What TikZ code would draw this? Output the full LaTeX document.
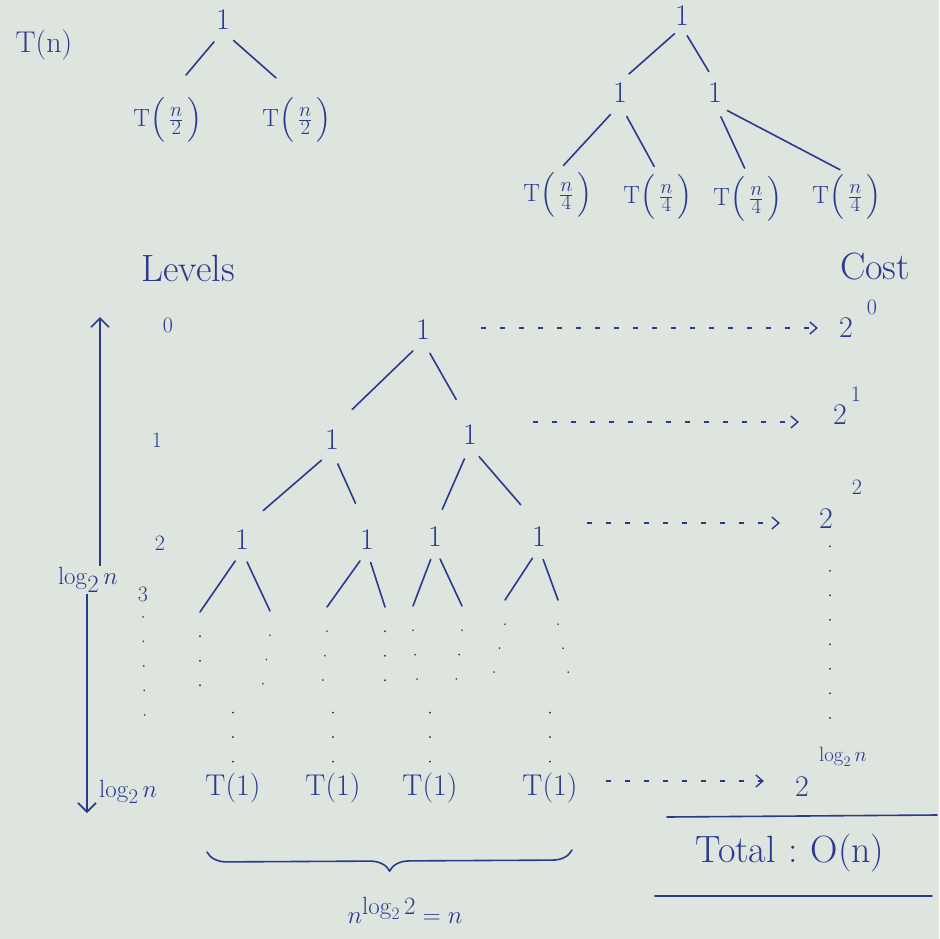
\documentclass[tikz,border=0pt]{standalone}
\usepackage{amsmath}
\usetikzlibrary{arrows.meta,decorations.pathreplacing}
\definecolor{ink}{HTML}{2B3A8F}
\definecolor{paper}{HTML}{DDE5DE}
\begin{document}
\begin{tikzpicture}[x=1pt,y=-1pt,
  txt/.style={text=ink,inner sep=1pt,font=\fontsize{30}{34}\selectfont},
  big/.style={text=ink,inner sep=1pt,font=\fontsize{38}{42}\selectfont},
  small/.style={text=ink,inner sep=1pt,font=\fontsize{22}{26}\selectfont},
  stroke/.style={draw=ink,line width=1.6pt,line cap=round},
  br/.style={stroke,shorten <=14pt,shorten >=28pt},
  darrow/.style={draw=ink,line width=1.4pt,dash pattern=on 5pt off 14pt,-{Straight Barb[length=7pt,width=12pt]}},
  dotline/.style={draw=ink,line width=1.5pt,line cap=round,dash pattern=on 0.5pt off 24pt},
  arr/.style={draw=ink,line width=1.6pt,-{Straight Barb[length=9pt,width=18pt]}}]
\fill[paper] (0,0) rectangle (939,939);
\useasboundingbox (0,0) rectangle (939,939);

% top-left small tree
\node[txt] (tn) at (44,45) {T(n)};
\node[txt] (a0) at (223,20) {1};
\node[txt] (a1) at (168,120) {$\mathrm{T}\Bigl(\,\frac{n}{2}\,\Bigr)$};
\node[txt] (a2) at (297,120) {$\mathrm{T}\Bigl(\,\frac{n}{2}\,\Bigr)$};
\draw[br] (a0.south) -- (a1.north);
\draw[br] (a0.south) -- (a2.north);

% top-right tree
\node[txt] (b0) at (682,16) {1};
\node[txt] (b1) at (620,93) {1};
\node[txt] (b2) at (715,93) {1};
\node[txt] (b3) at (558,195) {$\mathrm{T}\Bigl(\,\frac{n}{4}\,\Bigr)$};
\node[txt] (b4) at (658,197) {$\mathrm{T}\Bigl(\,\frac{n}{4}\,\Bigr)$};
\node[txt] (b5) at (748,199) {$\mathrm{T}\Bigl(\,\frac{n}{4}\,\Bigr)$};
\node[txt] (b6) at (847,197) {$\mathrm{T}\Bigl(\,\frac{n}{4}\,\Bigr)$};
\draw[br,shorten >=12pt,shorten <=10pt] (b0.south) -- (b1.north);
\draw[br,shorten >=12pt,shorten <=10pt] (b0.south) -- (b2.north);
\draw[br,shorten >=8pt] (b1.south) -- (b3.north);
\draw[br,shorten >=8pt] (b1.south) -- (b4.north);
\draw[br,shorten >=8pt] (b2.south) -- (b5.north);
\draw[br,shorten >=8pt] (b2.south) -- (b6.north);

% headers
\node[big] (lev) at (188,268) {Levels};
\node[big] (cost) at (875,267) {Cost};

% level numbers
\node[small] (l0) at (168,325) {0};
\node[small] (l1) at (157,440) {1};
\node[small] (l2) at (160,543) {2};
\node[small] (l3) at (143,594) {3};
\coordinate (l3b) at (145,735);
\draw[dotline] ([yshift=-14pt]l3.south) -- (l3b);

% left arrows
\node[txt,font=\fontsize{34}{38}\selectfont] (lg) at (88,580) {$\log_2 n$};
\coordinate (uptop) at (100,317);
\draw[arr] (lg.north -| uptop) -- (uptop);
\coordinate (dnbot) at (87,813);
\node[txt,anchor=west] (lgb) at (98,792) {$\log_2 n$};
\draw[arr] (lg.south -| dnbot) -- (dnbot);

% main tree
\node[txt] (r0) at (423,330) {1};
\node[txt] (r1) at (332,440) {1};
\node[txt] (r2) at (470,435) {1};
\node[txt] (r3) at (242,540) {1};
\node[txt] (r4) at (367,540) {1};
\node[txt] (r5) at (435,537) {1};
\node[txt] (r6) at (539,537) {1};
\draw[br] (r0.south) -- (r1.north);
\draw[br] (r0.south) -- (r2.north);
\draw[br] (r1.south) -- (r3.north);
\draw[br] (r1.south) -- (r4.north);
\draw[br,shorten >=18pt] (r2.south) -- (r5.north);
\draw[br] (r2.south) -- (r6.north);
\coordinate (e1) at (200,612);
\coordinate (e2) at (270,611);
\coordinate (e3) at (327,607);
\coordinate (e4) at (385,607);
\coordinate (e5) at (413,606);
\coordinate (e6) at (462,606);
\coordinate (e7) at (505,600);
\coordinate (e8) at (558,600);
\draw[stroke,shorten <=12pt] (r3.south) -- (e1);
\draw[stroke,shorten <=12pt] (r3.south) -- (e2);
\draw[stroke,shorten <=12pt] (r4.south) -- (e3);
\draw[stroke,shorten <=12pt] (r4.south) -- (e4);
\draw[stroke,shorten <=12pt] (r5.south) -- (e5);
\draw[stroke,shorten <=12pt] (r5.south) -- (e6);
\draw[stroke,shorten <=12pt] (r6.south) -- (e7);
\draw[stroke,shorten <=12pt] (r6.south) -- (e8);
\foreach \e/\x in {e1/200,e2/262,e3/322,e4/385,e5/418,e6/455,e7/490,e8/572}{
  \draw[dotline] ([yshift=-24pt]\e) -- (\x,690);
}

% leaves
\node[txt] (t1) at (233,788) {T(1)};
\node[txt] (t2) at (333,788) {T(1)};
\node[txt] (t3) at (430,788) {T(1)};
\node[txt] (t4) at (550,788) {T(1)};
\foreach \t in {t1,t2,t3,t4}{
  \draw[dotline] ([yshift=10pt]\t.north) -- ++(0,-50);
}

% costs
\node[txt] (c0) at (846,328) {2};
\node[small] (c0e) at (872,307) {0};
\node[txt] (c1) at (840,415) {2};
\node[small] (c1e) at (856,394) {1};
\node[txt] (c2) at (826,519) {2};
\node[small] (c2e) at (857,487) {2};
\node[txt] (c3) at (802,787) {2};
\node[small,anchor=west] (c3e) at (818,757) {$\log_2 n$};
\draw[darrow,shorten <=50pt,shorten >=20pt] (r0.east |- c0) -- (c0.west);
\draw[darrow,shorten <=55pt,shorten >=33pt] (r2.east |- 0,422) -- (c1.west |- 0,422);
\draw[darrow,shorten <=40pt,shorten >=38pt] (r6.east |- 0,523) -- (c2.west |- 0,523);
\draw[darrow,shorten <=27pt,shorten >=30pt] (t4.east |- 0,781) -- (c3.west |- 0,781);
\coordinate (vd) at (830,722);
\draw[dotline] ([yshift=-16pt]c2.south -| vd) -- (vd);

% total
\coordinate (h1a) at (667,817);
\coordinate (h1b) at (937,815);
\coordinate (h2a) at (655,896);
\coordinate (h2b) at (932,896);
\draw[stroke] (h1a) -- (h1b);
\node[big] (tot) at (790,853) {Total\,\,:\,\,O(n)};
\draw[stroke] (h2a) -- (h2b);

% brace and count
\coordinate (bl) at (207,852);
\coordinate (brr) at (572,850);
\draw[stroke,decorate,decoration={brace,mirror,amplitude=20pt}] (bl) -- (brr);
\node[txt,font=\fontsize{36}{40}\selectfont] (cnt) at (405,910) {$n^{\log_2 2} = n$};
\end{tikzpicture}
\end{document}
